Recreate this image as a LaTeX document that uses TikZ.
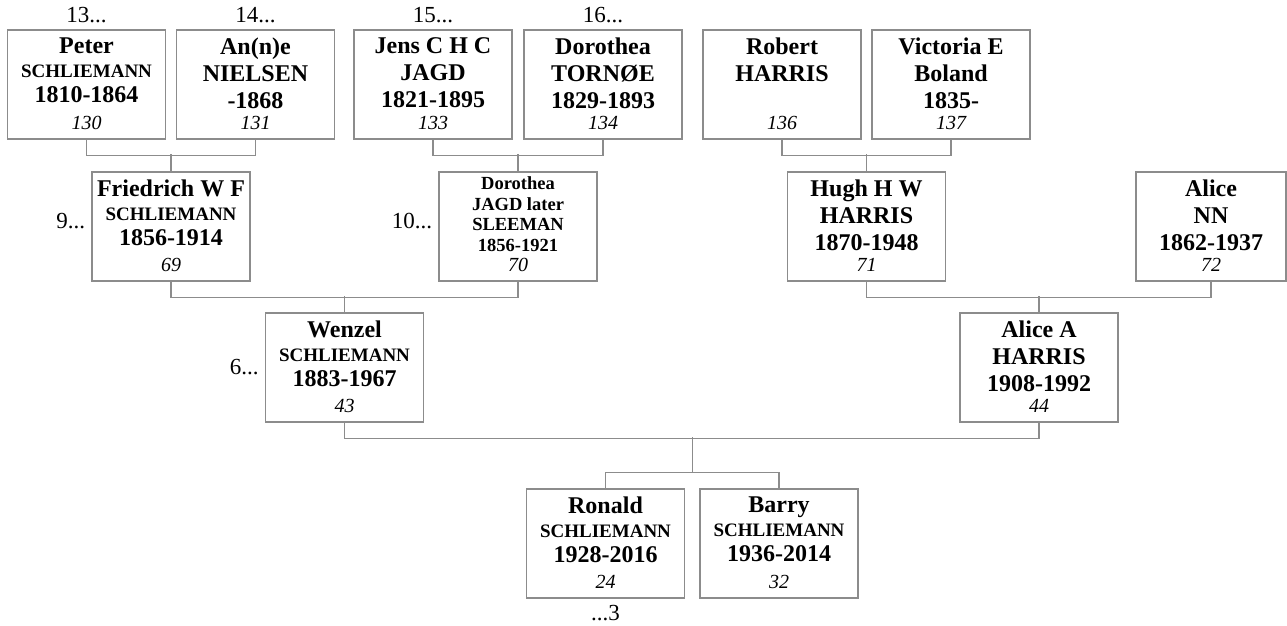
\documentclass[tikz,border=0pt]{standalone}
\usepackage{fontspec}
\setmainfont{Liberation Serif}
\usetikzlibrary{calc}
\definecolor{linegray}{RGB}{140,140,140}
% lines inside a box
\newcommand{\lbig}[1]{{\fontsize{24}{27}\selectfont #1\par}}
\newcommand{\lsmall}[1]{{\fontsize{19}{24}\selectfont #1\par}\vspace{-2pt}}
\newcommand{\ltiny}[1]{{\fontsize{18.5}{20.7}\selectfont #1\par}}
\newcommand{\pbox}[2]{\parbox[t][94pt][t]{150pt}{\centering\bfseries #1\vfill
  {\fontsize{20}{20}\selectfont\mdseries\itshape #2\par}\vspace{2pt}}}
\begin{document}
\begin{tikzpicture}[x=1pt,y=-1pt]
  \tikzstyle{person}=[draw=linegray,line width=1.2pt,inner sep=0pt,minimum width=158pt,minimum height=109pt]
  \tikzstyle{anc}=[font=\fontsize{23}{23}\selectfont,inner sep=6pt]
  \tikzstyle{link}=[draw=linegray,line width=1.2pt]
  \useasboundingbox (0,0) rectangle (1287,626);
  % great-grandparents
  \node[person,label={[anc]above:13...}] (peter) at (86.5,84.5)
    {\pbox{\lbig{Peter}\lsmall{SCHLIEMANN}\lbig{1810-1864}}{130}};
  \node[person,label={[anc]above:14...}] (anne) at (255.5,84.5)
    {\pbox{\lbig{An(n)e}\lbig{NIELSEN}\lbig{-1868}}{131}};
  \node[person,label={[anc]above:15...}] (jens) at (433,84.5)
    {\pbox{\lbig{Jens C H C}\lbig{JAGD}\lbig{1821-1895}}{133}};
  \node[person,label={[anc]above:16...}] (dortornoe) at (603,84.5)
    {\pbox{\lbig{Dorothea}\lbig{TORNØE}\lbig{1829-1893}}{134}};
  \node[person] (robert) at (782,84.5)
    {\pbox{\lbig{Robert}\lbig{HARRIS}}{136}};
  \node[person] (victoria) at (951,84.5)
    {\pbox{\lbig{Victoria E}\lbig{Boland}\lbig{1835-}}{137}};
  % grandparents
  \node[person,label={[anc,yshift=5pt]left:9...}] (friedrich) at (171,226.5)
    {\pbox{\lbig{Friedrich W F}\lsmall{SCHLIEMANN}\lbig{1856-1914}}{69}};
  \node[person,label={[anc,yshift=5pt]left:10...}] (dorjagd) at (518,226.5)
    {\pbox{\vspace{-3pt}\ltiny{Dorothea}\ltiny{JAGD later}\ltiny{SLEEMAN}\ltiny{1856-1921}}{70}};
  \node[person] (hugh) at (866.5,226.5)
    {\pbox{\lbig{Hugh H W}\lbig{HARRIS}\lbig{1870-1948}}{71}};
  \node[person,minimum width=150pt] (alicenn) at (1211,226.5)
    {\pbox{\lbig{Alice}\lbig{NN}\lbig{1862-1937}}{72}};
  % parents
  \node[person,label={[anc]left:6...}] (wenzel) at (344.5,367.5)
    {\pbox{\lbig{Wenzel}\lsmall{SCHLIEMANN}\lbig{1883-1967}}{43}};
  \node[person] (aliceharris) at (1039,367.5)
    {\pbox{\lbig{Alice A}\lbig{HARRIS}\lbig{1908-1992}}{44}};
  % children
  \node[person,label={[anc]below:...3}] (ronald) at (605.5,543.5)
    {\pbox{\lbig{Ronald}\lsmall{SCHLIEMANN}\lbig{1928-2016}}{24}};
  \node[person] (barry) at (779,543.5)
    {\pbox{\lbig{Barry}\lsmall{SCHLIEMANN}\lbig{1936-2014}}{32}};
  % couples and their children
  \draw[link] (peter.south) -- ++(0,16) -| (anne.south);
  \draw[link] (friedrich.north) -- ++(0,-17);
  \draw[link] (jens.south) -- ++(0,16) -| (dortornoe.south);
  \draw[link] (dorjagd.north) -- ++(0,-17);
  \draw[link] (robert.south) -- ++(0,16) -| (victoria.south);
  \draw[link] (hugh.north) -- ++(0,-17);
  \draw[link] (friedrich.south) -- ++(0,16) -| (dorjagd.south);
  \draw[link] (wenzel.north) -- ++(0,-16);
  \draw[link] (hugh.south) -- ++(0,16) -| (alicenn.south);
  \draw[link] (aliceharris.north) -- ++(0,-16);
  \draw[link] (wenzel.south) -- ++(0,16) -| (aliceharris.south);
  \draw[link] (ronald.north) -- ++(0,-16) -| (barry.north);
  \coordinate (kids) at ($(ronald.north)!.5!(barry.north)+(0,-16)$);
  \draw[link] (kids) -- ++(0,-35);
\end{tikzpicture}
\end{document}
